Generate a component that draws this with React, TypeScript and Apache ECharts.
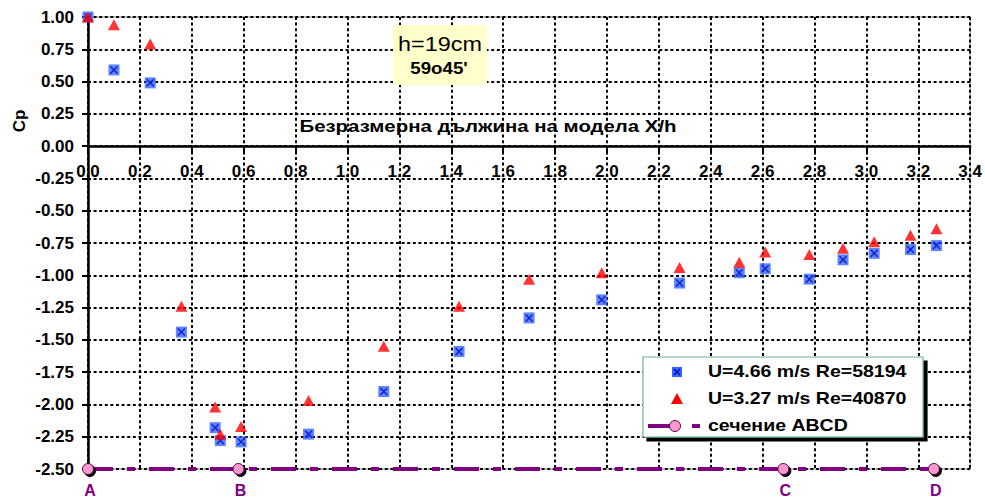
import React, { useEffect, useRef } from 'react';
import * as echarts from 'echarts';

// X/h positions of the measuring points
const xPoints = [0, 0.10, 0.24, 0.36, 0.49, 0.51, 0.59, 0.85, 1.14, 1.43, 1.70, 1.98, 2.28, 2.51, 2.61, 2.78, 2.91, 3.03, 3.17, 3.27];
// Cp for U=4.66 m/s Re=58194
const cpBlue = [1.00, 0.59, 0.49, -1.44, -2.18, -2.28, -2.29, -2.23, -1.90, -1.59, -1.33, -1.19, -1.06, -0.98, -0.95, -1.03, -0.88, -0.83, -0.80, -0.77];
// Cp for U=3.27 m/s Re=40870
const cpRed = [1.00, 0.94, 0.79, -1.24, -2.02, -2.23, -2.17, -1.97, -1.55, -1.24, -1.03, -0.98, -0.94, -0.90, -0.82, -0.84, -0.79, -0.74, -0.69, -0.64];
// Section ABCD
const xSection = [0, 0.58, 2.68, 3.26];
const cpSection = [-2.5, -2.5, -2.5, -2.5];
const sectionNames = ['A', 'B', 'C', 'D'];

const seriesNames = ['U=4.66 m/s Re=58194', 'U=3.27 m/s Re=40870', 'сечение ABCD'];
const xAxisTitle = 'Безразмерна дължина на модела X/h';
const yAxisTitle = 'Cp';
const noteLines = ['h=19cm', "59o45'"];

const X_MIN = 0, X_MAX = 3.4, X_STEP = 0.2;
const Y_MIN = -2.5, Y_MAX = 1, Y_STEP = 0.25;

export default function App() {
  const ref = useRef<HTMLDivElement>(null);
  useEffect(() => {
    const chart = echarts.init(ref.current!, null, { renderer: 'svg' });
    const font = "'Liberation Sans', Arial, sans-serif";
    const purple = '#800080';
    const pink = '#FF99CC';
    const blue = '#3366FF';
    const red = '#FF0000';
    const dotted = { color: '#000', width: 2, type: [3, 2.6] as number[] };

    const gridTop = 17, gridBottom = 29, H = 498;
    const gridH = H - gridTop - gridBottom;
    // distance from grid bottom edge up to the Cp = 0 line
    const zeroOffset = -(gridH * (0 - Y_MIN)) / (Y_MAX - Y_MIN);

    const lx = 643, ly = 357;
    chart.setOption({
      animation: false,
      backgroundColor: '#fff',
      grid: { left: 88, right: 12, top: gridTop, bottom: gridBottom, show: true, borderColor: '#8c8c8c', borderWidth: 1 },
      xAxis: {
        type: 'value', min: X_MIN, max: X_MAX, interval: X_STEP,
        position: 'bottom', offset: zeroOffset,
        axisLine: { onZero: false, lineStyle: { color: '#000', width: 2.5 } },
        axisTick: { show: true, length: 6, lineStyle: { color: '#000', width: 2 } },
        axisLabel: {
          margin: 17, color: '#000', fontFamily: font, fontWeight: 'bold', fontSize: 17,
          formatter: (v: number) => v.toFixed(1), showMinLabel: true, showMaxLabel: true,
        },
        splitLine: { show: true, lineStyle: dotted },
      },
      yAxis: {
        type: 'value', min: Y_MIN, max: Y_MAX, interval: Y_STEP,
        axisLine: { show: true, onZero: false, lineStyle: { color: '#000', width: 2.5 } },
        axisTick: { show: true, length: 6, lineStyle: { color: '#000', width: 2 } },
        axisLabel: {
          margin: 14, color: '#000', fontFamily: font, fontWeight: 'bold', fontSize: 17,
          formatter: (v: number) => v.toFixed(2),
        },
        splitLine: { show: true, lineStyle: dotted },
      },
      series: [
        {
          name: seriesNames[0], type: 'scatter', silent: true, z: 3,
          data: xPoints.map((x, i) => [x, cpBlue[i]]),
          symbol: 'rect', symbolSize: 11,
          itemStyle: { color: blue },
        },
        {
          name: seriesNames[0] + ' x', type: 'scatter', silent: true, z: 4,
          data: xPoints.map((x, i) => [x, cpBlue[i]]),
          symbol: 'path://M0,0L10,10M10,0L0,10', symbolSize: 7,
          itemStyle: { color: 'transparent', borderColor: '#0000C8', borderWidth: 1.4 },
        },
        {
          name: seriesNames[1], type: 'scatter', silent: true, z: 5,
          data: xPoints.map((x, i) => [x, cpRed[i]]),
          symbol: 'triangle', symbolSize: [12, 11],
          itemStyle: { color: red },
        },
        {
          name: seriesNames[2], type: 'line', silent: true, z: 6, clip: false,
          data: xSection.map((x, i) => [x, cpSection[i]]),
          symbol: 'circle', symbolSize: 11, showAllSymbol: true,
          lineStyle: { color: purple, width: 4, type: [25, 14, 8, 14] },
          itemStyle: {
            color: pink, borderColor: '#4d004d', borderWidth: 1,
            shadowColor: '#000', shadowOffsetX: 2, shadowOffsetY: 2, shadowBlur: 0,
          },
          label: {
            show: true, position: 'bottom', distance: 8, offset: [2, 0],
            formatter: (p: any) => sectionNames[p.dataIndex],
            color: purple, fontFamily: font, fontWeight: 'bold', fontSize: 16, lineHeight: 14,
          },
        },
      ],
      graphic: [
        // y axis title
        {
          type: 'text', x: 19, y: 121, rotation: Math.PI / 2, z: 10,
          style: { text: yAxisTitle, fill: '#000', font: `bold 17px ${font}`, textAlign: 'center', textVerticalAlign: 'middle' },
        },
        // x axis title
        {
          type: 'text', x: 488, y: 126, scaleX: 1.2, z: 10,
          style: { text: xAxisTitle, fill: '#000', font: `bold 17px ${font}`, textAlign: 'center', textVerticalAlign: 'middle' },
        },
        // note box
        {
          type: 'rect', z: 10, shape: { x: 393, y: 25, width: 94, height: 60 },
          style: { fill: '#FFFFCC' },
        },
        {
          type: 'text', x: 440, y: 44, scaleX: 1.17, z: 11,
          style: { text: noteLines[0], fill: '#000', font: `20px ${font}`, textAlign: 'center', textVerticalAlign: 'middle' },
        },
        {
          type: 'text', x: 439, y: 68, scaleX: 1.17, z: 11,
          style: { text: noteLines[1], fill: '#000', font: `bold 16px ${font}`, textAlign: 'center', textVerticalAlign: 'middle' },
        },
        // legend box
        {
          type: 'rect', z: 20, shape: { x: lx, y: ly, width: 280, height: 80 },
          style: { fill: '#fff', stroke: '#6DB38E', lineWidth: 1.2, shadowColor: '#000', shadowOffsetX: 4, shadowOffsetY: 4, shadowBlur: 0 },
        },
        {
          type: 'rect', z: 21, shape: { x: 672, y: 367, width: 10, height: 10 },
          style: { fill: blue },
        },
        {
          type: 'line', z: 22, shape: { x1: 674, y1: 369, x2: 680, y2: 375 },
          style: { stroke: '#0000C8', lineWidth: 1.3 },
        },
        {
          type: 'line', z: 22, shape: { x1: 680, y1: 369, x2: 674, y2: 375 },
          style: { stroke: '#0000C8', lineWidth: 1.3 },
        },
        {
          type: 'polygon', z: 21, shape: { points: [[677, 393], [683, 404], [671, 404]] },
          style: { fill: red },
        },
        {
          type: 'line', z: 21, shape: { x1: 648, y1: 426, x2: 680, y2: 426 },
          style: { stroke: purple, lineWidth: 4 },
        },
        {
          type: 'line', z: 21, shape: { x1: 692, y1: 426, x2: 700, y2: 426 },
          style: { stroke: purple, lineWidth: 4 },
        },
        {
          type: 'circle', z: 22, shape: { cx: 675, cy: 426, r: 5.5 },
          style: { fill: pink, stroke: '#4d004d', lineWidth: 1 },
        },
        ...seriesNames.map((t, i) => ({
          type: 'text', x: 708, y: 372 + i * 27, scaleX: 1.22, z: 22,
          style: { text: t, fill: '#000', font: `bold 16px ${font}`, textAlign: 'left', textVerticalAlign: 'middle' },
        })),
      ],
    });
    return () => chart.dispose();
  }, []);
  return (
    <div
      ref={ref}
      style={{ position: 'fixed', left: 0, top: 0, width: 985, height: 498, background: '#fff' }}
    />
  );
}
